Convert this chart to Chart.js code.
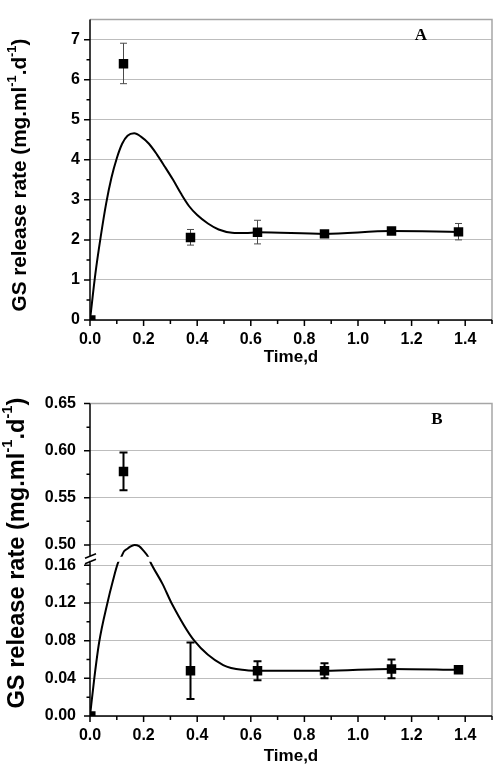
<!DOCTYPE html>
<html lang="en">
<head>
<meta charset="UTF-8">
<title>GS release rate</title>
<script src="https://cdn.jsdelivr.net/npm/chart.js@4"></script>
<style>
  body { margin: 0; background: #fff; }
  canvas { display: block; }
</style>
</head>
<body>
<canvas id="chartA" width="500" height="380"></canvas>
<canvas id="chartB" width="500" height="387"></canvas>
<script>
// sampling times (d) for the measured points
const sampleTimes = [0.003, 0.125, 0.375, 0.625, 0.875, 1.125, 1.375];

// panel A, measured rate with error bar ends
const rateA     = [0, 6.40, 2.06, 2.19, 2.15, 2.22, 2.20];
const rateALow  = [0, 5.90, 1.87, 1.90, 2.10, 2.17, 2.00];
const rateAHigh = [0, 6.91, 2.26, 2.49, 2.20, 2.28, 2.41];

// panel B, measured rate with error bar ends
const rateB     = [0, 0.578, 0.048, 0.048, 0.048, 0.050, 0.049];
const rateBLow  = [0, 0.558, 0.018, 0.038, 0.040, 0.040, 0.047];
const rateBHigh = [0, 0.598, 0.078, 0.058, 0.056, 0.060, 0.051];

// fitted curves
const fitTimesA = [0, 0.02, 0.04, 0.06, 0.08, 0.10, 0.12, 0.14, 0.165, 0.19, 0.22, 0.25, 0.28, 0.31, 0.34, 0.37, 0.40, 0.44, 0.48, 0.53, 0.58, 0.625, 0.875, 1.125, 1.375];
const fitA      = [0, 1.15, 2.08, 2.90, 3.55, 4.04, 4.40, 4.60, 4.66, 4.58, 4.40, 4.13, 3.82, 3.50, 3.15, 2.84, 2.62, 2.41, 2.26, 2.18, 2.17, 2.19, 2.15, 2.22, 2.20];
const fitTimesB = [0, 0.016, 0.034, 0.065, 0.085, 0.105, 0.116, 0.127, 0.138, 0.149, 0.166, 0.183, 0.197, 0.217, 0.226, 0.271, 0.304, 0.389, 0.497, 0.584, 0.625, 0.875, 1.125, 1.375];
const fitB      = [0, 0.04, 0.078, 0.12, 0.143, 0.207, 0.295, 0.394, 0.431, 0.469, 0.50, 0.48, 0.418, 0.30, 0.207, 0.14, 0.12, 0.08, 0.054, 0.0485, 0.048, 0.048, 0.050, 0.049];

// axis ticks
const xTicks  = [0, 0.2, 0.4, 0.6, 0.8, 1.0, 1.2, 1.4];
const xMinor  = [0.1, 0.3, 0.5, 0.7, 0.9, 1.1, 1.3, 1.5];
const yTicksA = [0, 1, 2, 3, 4, 5, 6, 7];
const yMinorA = [0.5, 1.5, 2.5, 3.5, 4.5, 5.5, 6.5];
const yTicksB = [0, 0.04, 0.08, 0.12, 0.16, 0.50, 0.55, 0.60, 0.65];
const yMinorB = [0.02, 0.06, 0.10, 0.14, 0.525, 0.575, 0.625];

// broken y axis in panel B: 0.16..0.50 squeezed into a small gap
const BREAK_LO = 0.16, BREAK_HI = 0.50, GAP = 0.0216;
function toDisp(v) {
  if (v <= BREAK_LO) return v;
  if (v >= BREAK_HI) return v - BREAK_HI + BREAK_LO + GAP;
  return BREAK_LO + (v - BREAK_LO) / (BREAK_HI - BREAK_LO) * GAP;
}

const SANS = '"Liberation Sans", Arial, sans-serif';
Chart.defaults.font.family = SANS;
Chart.defaults.color = '#000';

function pts(xs, ys, map) {
  return xs.map((x, i) => ({ x: x, y: map ? map(ys[i]) : ys[i] }));
}

function drawYTitle(ctx, cx, cy, len) {
  const parts = [['GS release rate (mg.ml', 0], ['-1', 1], ['.d', 0], ['-1', 1], [')', 0]];
  const widthAt = size => parts.reduce((w, p) => {
    ctx.font = 'bold ' + (p[1] ? size * 0.62 : size) + 'px ' + SANS;
    return w + ctx.measureText(p[0]).width;
  }, 0);
  const size = 17 * len / widthAt(17);
  ctx.save();
  ctx.translate(cx, cy);
  ctx.rotate(-Math.PI / 2);
  ctx.fillStyle = '#000';
  ctx.textBaseline = 'middle';
  ctx.textAlign = 'left';
  let x = -len / 2;
  for (const p of parts) {
    ctx.font = 'bold ' + (p[1] ? size * 0.62 : size) + 'px ' + SANS;
    ctx.fillText(p[0], x, p[1] ? -size * 0.38 : 0);
    x += ctx.measureText(p[0]).width;
  }
  ctx.restore();
}

function makeDecor(cfg) {
  return {
    id: 'decor',
    beforeDatasetsDraw(chart) {
      const { ctx, scales: { x, y } } = chart;
      const map = cfg.map || (v => v);
      ctx.save();
      ctx.strokeStyle = cfg.errColor;
      ctx.lineWidth = cfg.errWidth;
      cfg.times.forEach((t, i) => {
        const lo = cfg.low[i], hi = cfg.high[i];
        if (hi - lo <= 0) return;
        const px = x.getPixelForValue(t);
        const p1 = y.getPixelForValue(map(lo)), p2 = y.getPixelForValue(map(hi));
        ctx.beginPath();
        ctx.moveTo(px, p1); ctx.lineTo(px, p2);
        ctx.moveTo(px - cfg.cap, p1); ctx.lineTo(px + cfg.cap, p1);
        ctx.moveTo(px - cfg.cap, p2); ctx.lineTo(px + cfg.cap, p2);
        ctx.stroke();
      });
      ctx.restore();
    },
    afterDatasetsDraw(chart) {
      if (!cfg.broken) return;
      const { ctx, chartArea: a, scales: { y } } = chart;
      const p = y.getPixelForValue(BREAK_LO);
      ctx.save();
      ctx.fillStyle = '#fff';
      ctx.fillRect(a.left + 1, p - 8.5, a.right - a.left - 2, 5);
      ctx.restore();
    },
    afterDraw(chart) {
      const { ctx, chartArea: a, scales: { x, y } } = chart;
      const map = cfg.map || (v => v);
      ctx.save();
      // grey frame top and right
      ctx.strokeStyle = '#a6a6a6';
      ctx.lineWidth = 1.5;
      ctx.beginPath();
      ctx.moveTo(a.left, a.top); ctx.lineTo(a.right, a.top); ctx.lineTo(a.right, a.bottom);
      ctx.stroke();
      // black axes
      ctx.strokeStyle = '#000';
      ctx.lineWidth = 1.5;
      ctx.beginPath();
      ctx.moveTo(a.left - 0.5, a.bottom); ctx.lineTo(a.right, a.bottom);
      if (cfg.broken) {
        const p = y.getPixelForValue(BREAK_LO);
        ctx.moveTo(a.left, a.top); ctx.lineTo(a.left, p - 9.5);
        ctx.moveTo(a.left, p - 4.5); ctx.lineTo(a.left, a.bottom);
        ctx.moveTo(a.left - 5, p - 7); ctx.lineTo(a.left + 6, p - 11.5);
        ctx.moveTo(a.left - 5, p - 1.5); ctx.lineTo(a.left + 6, p - 6);
      } else {
        ctx.moveTo(a.left, a.top); ctx.lineTo(a.left, a.bottom);
      }
      // tick marks
      cfg.yMajor.forEach(v => { const p = y.getPixelForValue(map(v)); ctx.moveTo(a.left - 6, p); ctx.lineTo(a.left, p); });
      cfg.yMinor.forEach(v => { const p = y.getPixelForValue(map(v)); ctx.moveTo(a.left - 3.5, p); ctx.lineTo(a.left, p); });
      xTicks.forEach(v => { const p = x.getPixelForValue(v); ctx.moveTo(p, a.bottom); ctx.lineTo(p, a.bottom + 6); });
      xMinor.forEach(v => { const p = x.getPixelForValue(v); ctx.moveTo(p, a.bottom); ctx.lineTo(p, a.bottom + 4); });
      ctx.stroke();
      // panel letter
      ctx.fillStyle = '#000';
      ctx.font = 'bold 17px "Liberation Serif", "Times New Roman", serif';
      ctx.textAlign = 'center';
      ctx.textBaseline = 'middle';
      ctx.fillText(cfg.letter, cfg.letterX, cfg.letterY);
      ctx.restore();
      drawYTitle(ctx, cfg.titleX, cfg.titleY, cfg.titleLen);
    }
  };
}

function makeChart(id, opt) {
  const map = opt.map;
  return new Chart(document.getElementById(id), {
    type: 'scatter',
    data: {
      datasets: [
        {
          data: pts(sampleTimes, opt.rate, map),
          pointStyle: 'rect', pointRadius: 6.7,
          backgroundColor: '#000', borderColor: '#000', borderWidth: 0,
          clip: 0
        },
        {
          data: pts(opt.fitTimes, opt.fit, map),
          showLine: true, pointRadius: 0,
          borderColor: '#000', borderWidth: 2,
          cubicInterpolationMode: 'monotone', fill: false
        }
      ]
    },
    options: {
      responsive: false,
      animation: false,
      events: [],
      layout: { padding: opt.padding },
      plugins: { legend: { display: false }, tooltip: { enabled: false } },
      scales: {
        x: {
          type: 'linear', min: 0, max: 1.5,
          afterBuildTicks: s => { s.ticks = xTicks.map(v => ({ value: v })); },
          afterFit: s => { s.height = opt.xHeight; },
          grid: { display: false, drawTicks: false },
          border: { display: false },
          ticks: { callback: v => v.toFixed(1), font: { size: 16, weight: 'bold' }, padding: 10, maxRotation: 0, autoSkip: false },
          title: { display: true, text: 'Time,d', font: { size: 17, weight: 'bold' }, padding: { top: 0, bottom: opt.titlePad } }
        },
        y: {
          type: 'linear', min: 0, max: opt.yMax,
          afterBuildTicks: s => { s.ticks = opt.yTicks.map(v => ({ value: map ? map(v) : v })); },
          afterFit: s => { s.width = 90; },
          grid: { color: '#bdbdbd', lineWidth: 1, drawTicks: false },
          border: { display: false },
          ticks: { callback: (v, i) => opt.yLabel(opt.yTicks[i]), font: { size: 16, weight: 'bold' }, padding: opt.yPad, autoSkip: false }
        }
      }
    },
    plugins: [makeDecor(opt.decor)]
  });
}

makeChart('chartA', {
  rate: rateA, fitTimes: fitTimesA, fit: fitA,
  padding: { left: 0, right: 8, top: 1, bottom: 0 },
  xHeight: 60, titlePad: 12, yMax: 7.5, yTicks: yTicksA, yPad: 10,
  yLabel: v => String(v),
  decor: {
    times: sampleTimes, low: rateALow, high: rateAHigh,
    errColor: '#4a4a4a', errWidth: 1, cap: 3.5,
    yMajor: yTicksA, yMinor: yMinorA,
    letter: 'A', letterX: 421, letterY: 36,
    titleX: 20, titleY: 175, titleLen: 273
  }
});

makeChart('chartB', {
  rate: rateB, fitTimes: fitTimesB, fit: fitB, map: toDisp,
  padding: { left: 0, right: 8, top: 14.7, bottom: 0 },
  xHeight: 51, titlePad: 0, yMax: toDisp(0.65), yTicks: yTicksB, yPad: 14,
  yLabel: v => v.toFixed(2),
  decor: {
    times: sampleTimes, low: rateBLow, high: rateBHigh, map: toDisp, broken: true,
    errColor: '#000', errWidth: 2, cap: 4,
    yMajor: yTicksB, yMinor: yMinorB,
    letter: 'B', letterX: 437, letterY: 39.5,
    titleX: 17, titleY: 173, titleLen: 311
  }
});
</script>
</body>
</html>
